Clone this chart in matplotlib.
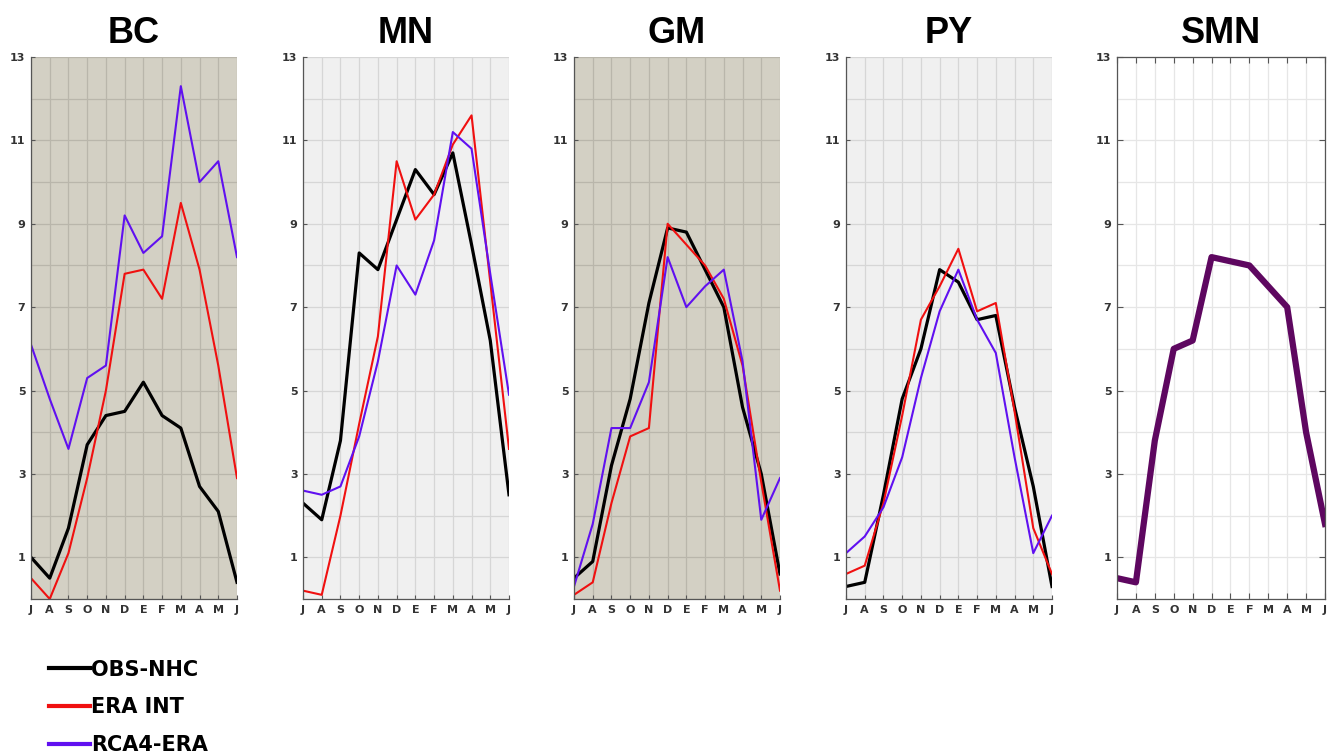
import numpy as np
import matplotlib
matplotlib.use("Agg")
import matplotlib.pyplot as plt

months = ['J', 'A', 'S', 'O', 'N', 'D', 'E', 'F', 'M', 'A', 'M', 'J']
regions = ['BC', 'MN', 'GM', 'PY']

obs = {
    'BC': [1.0, 0.5, 1.7, 3.7, 4.4, 4.5, 5.2, 4.4, 4.1, 2.7, 2.1, 0.4],
    'MN': [2.3, 1.9, 3.8, 8.3, 7.9, 9.1, 10.3, 9.7, 10.7, 8.5, 6.2, 2.5],
    'GM': [0.5, 0.9, 3.2, 4.8, 7.1, 8.9, 8.8, 7.9, 7.0, 4.6, 3.0, 0.6],
    'PY': [0.3, 0.4, 2.5, 4.8, 6.0, 7.9, 7.6, 6.7, 6.8, 4.6, 2.7, 0.3],
}
era = {
    'BC': [0.5, 0.0, 1.1, 2.9, 5.0, 7.8, 7.9, 7.2, 9.5, 7.9, 5.6, 2.9],
    'MN': [0.2, 0.1, 2.0, 4.2, 6.3, 10.5, 9.1, 9.7, 10.9, 11.6, 7.6, 3.6],
    'GM': [0.1, 0.4, 2.3, 3.9, 4.1, 9.0, 8.5, 8.0, 7.2, 5.6, 2.8, 0.2],
    'PY': [0.6, 0.8, 2.3, 4.4, 6.7, 7.5, 8.4, 6.9, 7.1, 4.5, 1.7, 0.6],
}
rca = {
    'BC': [6.1, 4.8, 3.6, 5.3, 5.6, 9.2, 8.3, 8.7, 12.3, 10.0, 10.5, 8.2],
    'MN': [2.6, 2.5, 2.7, 3.9, 5.7, 8.0, 7.3, 8.6, 11.2, 10.8, 7.8, 4.9],
    'GM': [0.3, 1.8, 4.1, 4.1, 5.2, 8.2, 7.0, 7.5, 7.9, 5.7, 1.9, 2.9],
    'PY': [1.1, 1.5, 2.2, 3.4, 5.3, 6.9, 7.9, 6.7, 5.9, 3.4, 1.1, 2.0],
}
smn = [0.5, 0.4, 3.8, 6.0, 6.2, 8.2, 8.1, 8.0, 7.5, 7.0, 4.0, 1.8]

backgrounds = {'BC': '#d3d0c4', 'MN': '#f0f0f0', 'GM': '#d3d0c4', 'PY': '#f0f0f0'}
grid_cols = {'BC': '#b9b6ab', 'MN': '#d6d6d6', 'GM': '#b9b6ab', 'PY': '#d6d6d6'}

W, H = 1337, 756
fig = plt.figure(figsize=(W / 100, H / 100), dpi=100)

lefts = [31, 303, 574, 846, 1117]
widths = [206, 206, 206, 206, 208]
top, bottom = 57, 599

x = np.arange(len(months))


def style_axis(ax, bg, gcol, box=False):
    ax.set_facecolor(bg)
    ax.set_xlim(0, 11)
    ax.set_ylim(0, 13)
    ax.set_xticks(x)
    ax.set_xticklabels(months)
    ax.set_yticks(np.arange(1, 14, 2))
    ax.set_yticks(np.arange(0, 14, 1), minor=True)
    ax.grid(True, which='both', color=gcol, linewidth=0.9)
    ax.set_axisbelow(True)
    ax.tick_params(axis='both', which='both', direction='in', length=3,
                   color='#555555', labelsize=8, labelcolor='#333333', pad=4)
    ax.tick_params(axis='y', which='minor', length=0)
    for lab in ax.get_xticklabels() + ax.get_yticklabels():
        lab.set_fontweight('bold')
    for s in ['top', 'right']:
        ax.spines[s].set_visible(box)
    for s in ax.spines.values():
        s.set_color('#555555')
        s.set_linewidth(0.9)
    if box:
        ax.tick_params(axis='both', which='major', right=True, top=True, length=4)


for i, reg in enumerate(regions):
    ax = fig.add_axes([lefts[i] / W, 1 - bottom / H, widths[i] / W, (bottom - top) / H])
    style_axis(ax, backgrounds[reg], grid_cols[reg])
    ax.plot(x, obs[reg], color='black', lw=2.3, label='OBS-NHC')
    ax.plot(x, era[reg], color='#f01010', lw=1.5, label='ERA INT')
    ax.plot(x, rca[reg], color='#6010f0', lw=1.5, label='RCA4-ERA')
    ax.set_title(reg, fontsize=26, fontweight='bold', family='Liberation Sans', pad=10)
    if i == 0:
        handles, labels = ax.get_legend_handles_labels()

ax = fig.add_axes([lefts[4] / W, 1 - bottom / H, widths[4] / W, (bottom - top) / H])
style_axis(ax, 'white', '#e6e6e6', box=True)
ax.plot(x, smn, color='#5e0760', lw=4.5)
ax.set_title('SMN', fontsize=26, fontweight='bold', family='Liberation Sans', pad=10)

leg = fig.legend(handles, labels, loc='upper left', bbox_to_anchor=(30 / W, 1 - 641 / H),
                 frameon=False, handlelength=2.0, handletextpad=0.05, labelspacing=0.85,
                 prop={'weight': 'bold', 'size': 15})
for line in leg.get_lines():
    line.set_linewidth(3)

fig.savefig('out.png', dpi=100)
